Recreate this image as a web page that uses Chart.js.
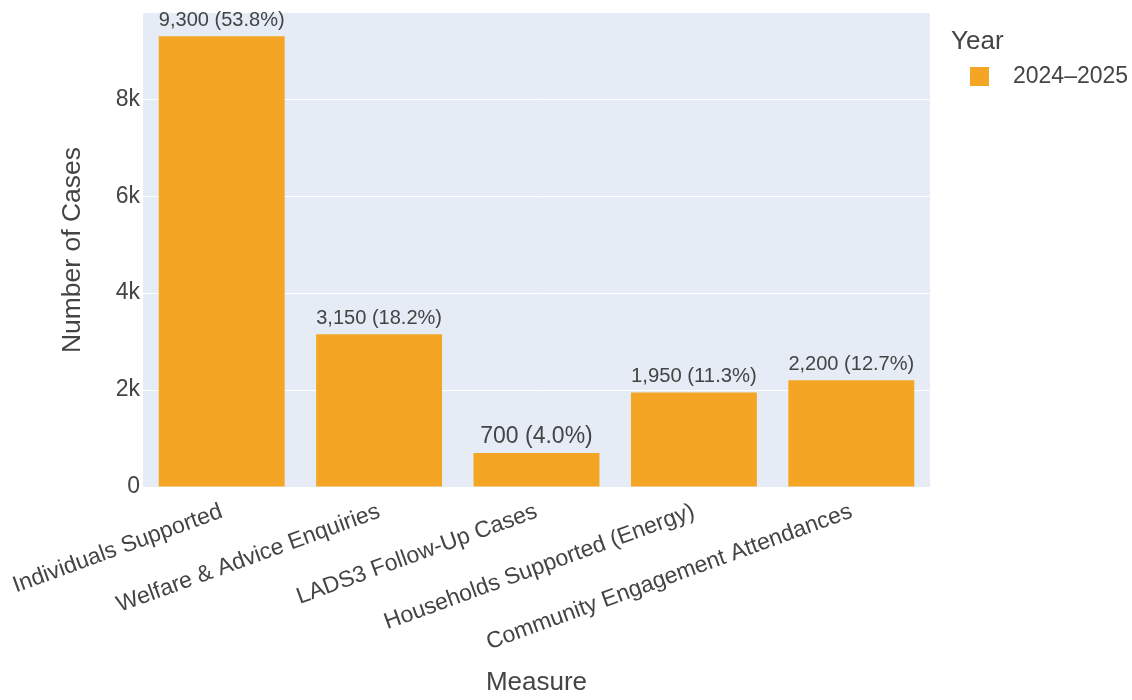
<!DOCTYPE html>
<html><head><meta charset="utf-8">
<script src="https://cdn.jsdelivr.net/npm/chart.js@4.4.1/dist/chart.umd.min.js"></script>
<style>html,body{margin:0;padding:0;background:#fff}#wrap{width:1132px;height:700px}</style>
</head><body><div id="wrap"><canvas id="c" width="1132" height="700"></canvas></div>
<script>
const categories = ["Individuals Supported","Welfare & Advice Enquiries","LADS3 Follow-Up Cases","Households Supported (Energy)","Community Engagement Attendances"];
const seriesName = "2024\u20132025";
const values = [9300, 3150, 700, 1950, 2200];
const yTickValues = [0, 2000, 4000, 6000, 8000];
const yTickLabels = ["0", "2k", "4k", "6k", "8k"];
const legendTitle = "Year";
const xTitle = "Measure";
const yTitle = "Number of Cases";
const total = values.reduce((a, b) => a + b, 0);
const barLabels = values.map(v => v.toLocaleString('en-US') + ' (' + (v / total * 100).toFixed(1) + '%)');

const FONT = "'Liberation Sans', Arial, sans-serif";
const TEXT = '#444';
const BAR = '#F4A524';
Chart.defaults.font.family = FONT;
Chart.defaults.color = TEXT;

const plotBg = {
  id: 'plotBg',
  beforeDraw(chart) {
    const {ctx, chartArea: a} = chart;
    ctx.save();
    ctx.fillStyle = '#E5ECF6';
    ctx.fillRect(a.left, a.top, a.right - a.left, a.bottom - a.top);
    ctx.restore();
  }
};

const barText = {
  id: 'barText',
  afterDatasetsDraw(chart) {
    const {ctx} = chart;
    const meta = chart.getDatasetMeta(0);
    ctx.save();
    ctx.fillStyle = TEXT;
    ctx.textAlign = 'center';
    ctx.textBaseline = 'alphabetic';
    meta.data.forEach((bar, i) => {
      const txt = barLabels[i];
      let size = 23;
      ctx.font = size + 'px ' + FONT;
      const w = ctx.measureText(txt).width;
      if (w > bar.width) size = size * bar.width / w;
      ctx.font = size + 'px ' + FONT;
      ctx.fillText(txt, bar.x, bar.y - 10);
    });
    ctx.restore();
  }
};

const customLegend = {
  id: 'customLegend',
  afterDraw(chart) {
    const {ctx} = chart;
    const ds = chart.data.datasets[0];
    ctx.save();
    ctx.fillStyle = TEXT;
    ctx.textAlign = 'left';
    ctx.textBaseline = 'middle';
    ctx.font = '26px ' + FONT;
    ctx.fillText(legendTitle, 951, 42);
    ctx.fillStyle = ds.backgroundColor;
    ctx.fillRect(970, 67, 19, 19);
    ctx.fillStyle = TEXT;
    ctx.font = '23px ' + FONT;
    ctx.fillText(ds.label, 1013, 77);
    ctx.restore();
  }
};

new Chart(document.getElementById('c'), {
  type: 'bar',
  data: {
    labels: categories,
    datasets: [{
      label: seriesName,
      data: values,
      backgroundColor: BAR,
      borderWidth: 0,
      barPercentage: 0.8,
      categoryPercentage: 1.0
    }]
  },
  options: {
    responsive: false,
    devicePixelRatio: 1,
    animation: false,
    layout: { padding: { left: 0, right: 202, top: 13, bottom: 0 } },
    plugins: { legend: { display: false }, tooltip: { enabled: false } },
    scales: {
      x: {
        grid: { display: false, drawTicks: false },
        border: { display: false },
        ticks: {
          font: { size: 23 }, color: TEXT,
          minRotation: 20, maxRotation: 20, autoSkip: false, padding: 11
        },
        title: { display: true, text: xTitle, font: { size: 26 }, color: TEXT, padding: { top: 0, bottom: 2 } },
        afterFit(s) { s.height = 213; s.paddingLeft = 0; s.paddingRight = 0; }
      },
      y: {
        min: 0, max: 9780,
        grid: { color: '#ffffff', lineWidth: 1, drawTicks: false },
        border: { display: false },
        afterBuildTicks(s) { s.ticks = yTickValues.map(v => ({ value: v })); },
        ticks: {
          font: { size: 23 }, color: TEXT, padding: 3,
          callback: (v) => yTickLabels[yTickValues.indexOf(v)]
        },
        title: { display: true, text: yTitle, font: { size: 26.5 }, color: TEXT, padding: { top: 57, bottom: 0 } },
        afterFit(s) { s.width = 143; s.paddingTop = 0; s.paddingBottom = 0; }
      }
    }
  },
  plugins: [plotBg, barText, customLegend]
});
</script></body></html>
